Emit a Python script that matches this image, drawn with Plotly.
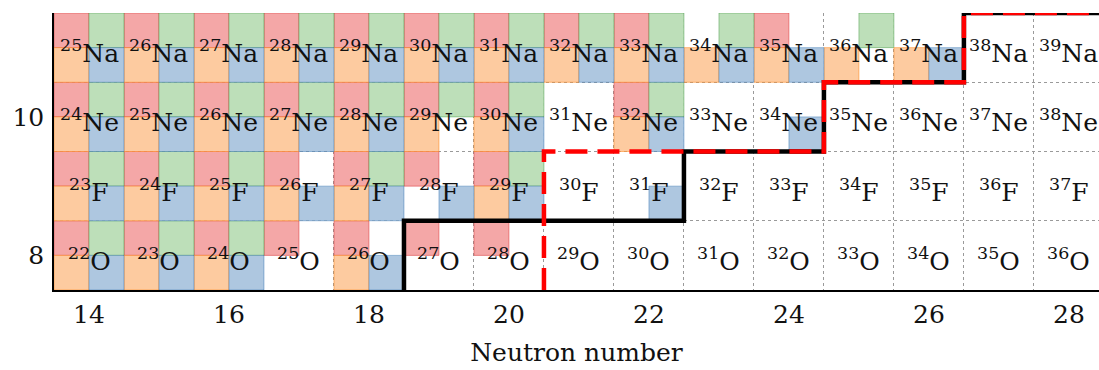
import plotly.graph_objects as go

# Neutron numbers covered by the chart section
neutrons = list(range(14, 29))

# Elements by proton number
protons = [8, 9, 10, 11]
symbols = ["O", "F", "Ne", "Na"]

# Bound-state flags per nucleus, one character per model:
# R = top-left, G = top-right, O = bottom-left, B = bottom-right ("-" = unbound)
flags_O = ["RGOB", "RGOB", "RGOB", "R---", "R-OB", "R---", "R---",
           "----", "----", "----", "----", "----", "----", "----", "----"]
flags_F = ["RGOB", "RGOB", "RGOB", "R-OB", "RGOB", "R--B", "RGOB",
           "----", "---B", "----", "----", "----", "----", "----", "----"]
flags_Ne = ["RGOB", "RGOB", "RGOB", "RGOB", "RGOB", "RGO-", "RGOB",
            "----", "RGOB", "----", "---B", "----", "----", "----", "----"]
flags_Na = ["RGOB", "RGOB", "RGOB", "RGOB", "RGOB", "RGOB", "RGOB",
            "RGOB", "RGOB", "-GOB", "R-OB", "-GO-", "--OB", "----", "----"]
flags = [flags_O, flags_F, flags_Ne, flags_Na]

# Drip-line boundaries (cell edges in N, Z)
black_N = [18.5, 18.5, 22.5, 22.5, 24.5, 24.5, 26.5, 26.5, 29.5]
black_Z = [7.5, 8.5, 8.5, 9.5, 9.5, 10.5, 10.5, 11.5, 11.5]
red_N = [20.5, 20.5, 24.5, 24.5, 26.5, 26.5, 29.5]
red_Z = [7.5, 9.5, 9.5, 10.5, 10.5, 11.5, 11.5]

x_ticks = [14, 16, 18, 20, 22, 24, 26, 28]
y_ticks = [8, 10]

quad_style = {
    "R": dict(fill="#f4a7a7", edge="rgba(214,39,40,0.45)", dx=(-0.5, 0.0), dy=(0.0, 0.5)),
    "G": dict(fill="#bddfb9", edge="rgba(44,140,44,0.40)", dx=(0.0, 0.5), dy=(0.0, 0.5)),
    "O": dict(fill="#fdcba0", edge="rgba(255,127,14,0.50)", dx=(-0.5, 0.0), dy=(-0.5, 0.0)),
    "B": dict(fill="#aec7e0", edge="rgba(31,100,170,0.40)", dx=(0.0, 0.5), dy=(-0.5, 0.0)),
}

fig = go.Figure()

for key, st in quad_style.items():
    xs, ys = [], []
    for z, row in zip(protons, flags):
        for n, f in zip(neutrons, row):
            if key in f:
                x0, x1 = n + st["dx"][0], n + st["dx"][1]
                y0, y1 = z + st["dy"][0], z + st["dy"][1]
                xs += [x0, x1, x1, x0, x0, None]
                ys += [y0, y0, y1, y1, y0, None]
    fig.add_trace(go.Scatter(
        x=xs, y=ys, mode="lines", fill="toself", fillcolor=st["fill"],
        line=dict(color=st["edge"], width=1), hoverinfo="skip", showlegend=False,
    ))

fig.add_trace(go.Scatter(
    x=black_N, y=black_Z, mode="lines",
    line=dict(color="black", width=4.5), showlegend=False, hoverinfo="skip",
))
fig.add_trace(go.Scatter(
    x=red_N, y=red_Z, mode="lines",
    line=dict(color="#ff0000", width=4.5, dash="22px,10px"),
    showlegend=False, hoverinfo="skip",
))

# Isotope labels: mass number as superscript before the element symbol
for z, sym in zip(protons, symbols):
    for n in neutrons:
        a = n + z
        fig.add_annotation(
            x=n, y=z, xref="x", yref="y",
            text=f"<sup>{a}</sup>{sym}",
            showarrow=False, xanchor="center", yanchor="middle",
            font=dict(family="DejaVu Serif", size=25, color="#111111"),
            yshift=-4,
        )

fig.update_layout(
    width=1099, height=370,
    margin=dict(l=54, r=0, t=13, b=80),
    plot_bgcolor="white", paper_bgcolor="white",
    font=dict(family="DejaVu Serif", size=25, color="#111111"),
    showlegend=False,
)
fig.update_xaxes(
    range=[13.5, 28.43], tickvals=x_ticks, ticks="", showgrid=False, zeroline=False,
    showline=True, linecolor="black", linewidth=1.5,
    minor=dict(tick0=0.5, dtick=1, showgrid=True, gridcolor="#9a9a9a",
               griddash="dot", gridwidth=1, ticks=""),
    title=dict(text="Neutron number", standoff=16, font=dict(size=25)),
    tickfont=dict(size=25), ticklabelstandoff=1,
)
fig.update_yaxes(
    range=[7.5, 11.5], tickvals=y_ticks, ticks="", showgrid=False, zeroline=False,
    showline=True, linecolor="black", linewidth=1.5,
    minor=dict(tick0=0.5, dtick=1, showgrid=True, gridcolor="#9a9a9a",
               griddash="dot", gridwidth=1, ticks=""),
    tickfont=dict(size=25), ticklabelstandoff=3,
)

fig.write_html("out.html")
